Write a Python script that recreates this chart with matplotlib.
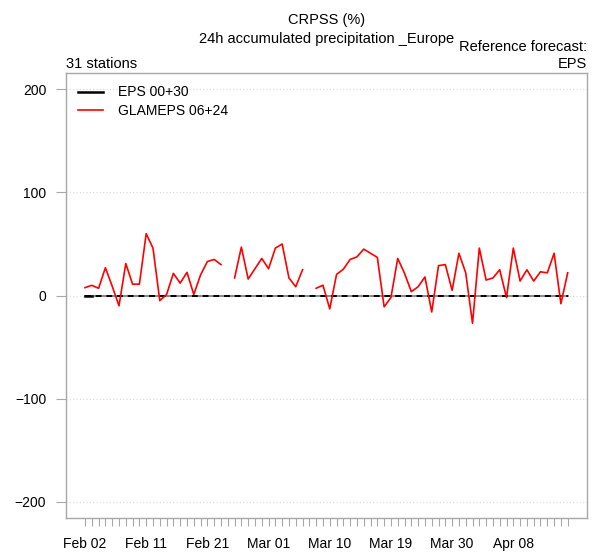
import numpy as np
import matplotlib
matplotlib.use('Agg')
import matplotlib.pyplot as plt
from matplotlib.lines import Line2D

plt.rcParams['font.family'] = ['Liberation Sans', 'DejaVu Sans']

# CRPSS (%) per case, GLAMEPS 06+24 vs reference EPS 00+30 (nan = no data)
glameps = [7.6, 9.9, 7, 27, 9, -10, 31, 11, 11, 60,
           46, -5, 1, 21.5, 12, 22.5, 1, 20, 33, 35,
           30, np.nan, 17, 47, 16, 26, 36, 26, 46, 50,
           17, 8.5, 25, np.nan, 7, 10, -13, 20.5, 25.5, 35,
           37.5, 45, 41, 37, -11, -2, 36, 21.5, 3.7, 8.5,
           18, -16, 29, 30, 5, 41, 22, -27, 46, 15,
           17, 25, -2, 46, 14, 25, 14, 23, 22, 41,
           -8, 22]
eps = [0.0] * len(glameps)
date_labels = ["Feb 02", "Feb 11", "Feb 21", "Mar 01", "Mar 10", "Mar 19", "Mar 30", "Apr 08"]
label_step = 9
yticks = [-200, -100, 0, 100, 200]

idx = np.arange(len(glameps))
n = len(glameps)

fig = plt.figure(figsize=(5.94, 5.52), dpi=100)
ax = fig.add_axes([65.7 / 594, 34 / 552, (587 - 65.7) / 594, (518 - 73) / 552])

ext = 0.04 * (n - 1)
ax.set_xlim(-ext, n - 1 + ext)
ax.set_ylim(-216, 216)

for yv in yticks:
    ax.axhline(yv, color='#d8d8d8', lw=0.8, linestyle=(0, (1, 2)), zorder=0)

ax.plot(idx, eps, color='#8a8a8a', lw=1.4, zorder=2)
ax.plot(idx, eps, color='black', lw=1.4, dashes=(3, 2.5), zorder=3)
ax.plot(idx[:2], eps[:2], color='black', lw=1.8, zorder=3)
ax.plot(idx, glameps, color='#ff0000', lw=1.2, zorder=4)

for s in ax.spines.values():
    s.set_color('#a8a8a8')
    s.set_linewidth(1.0)

ax.set_yticks(yticks)
ax.set_yticklabels(['\u2212200', '\u2212100', '0', '100', '200'])
ax.tick_params(axis='y', length=7, width=0.8, color='#a8a8a8', pad=7,
               labelsize=10, labelcolor='black')

xlabels = [''] * n
for k, lab in enumerate(date_labels):
    xlabels[k * label_step] = lab
ax.set_xticks(idx)
ax.set_xticklabels(xlabels)
ax.tick_params(axis='x', length=6, width=0.8, color='#a8a8a8', pad=7.5, labelsize=10)

handles = [Line2D([], [], color='black', lw=1.8),
           Line2D([], [], color='#ff0000', lw=1.2)]
ax.legend(handles, ['EPS 00+30', 'GLAMEPS 06+24'], loc='upper left',
          bbox_to_anchor=(0.0, 1.0), frameon=False, fontsize=10,
          handlelength=1.75, handletextpad=1.1, labelspacing=0.3,
          borderaxespad=0.5)

ax_cx = (65.7 + 587) / 2 / 594
fig.text(ax_cx, 1 - 20 / 552, 'CRPSS (%)', ha='center', va='center', fontsize=10.5)
fig.text(ax_cx, 1 - 39 / 552, '24h accumulated precipitation _Europe', ha='center', va='center', fontsize=10.5)
fig.text(587 / 594, 1 - 47 / 552, 'Reference forecast:', ha='right', va='center', fontsize=10.5)
fig.text(587 / 594, 1 - 64 / 552, 'EPS', ha='right', va='center', fontsize=10.5)
fig.text(65.7 / 594, 1 - 64 / 552, '31 stations', ha='left', va='center', fontsize=10.5)

fig.savefig('out.png', dpi=100)
